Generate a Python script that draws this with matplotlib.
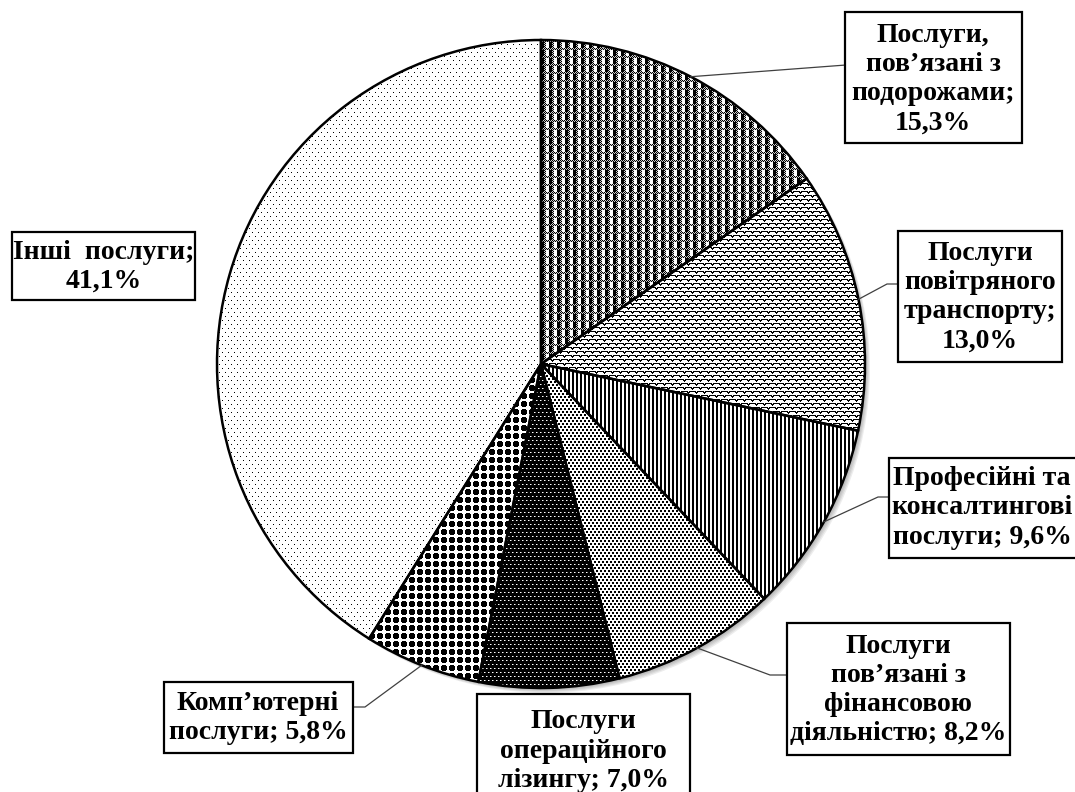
import numpy as np
import matplotlib
matplotlib.use("Agg")
import matplotlib.pyplot as plt
from matplotlib.patches import Rectangle, Circle

# data
categories = [
    "Послуги,\nпов’язані з\nподорожами",
    "Послуги\nповітряного\nтранспорту",
    "Професійні та\nконсалтингові\nпослуги",
    "Послуги\nпов’язані з\nфінансовою\nдіяльністю",
    "Послуги\nопераційного\nлізингу",
    "Комп’ютерні\nпослуги",
    "Інші  послуги",
]
shares = [15.3, 13.0, 9.6, 8.2, 7.0, 5.8, 41.1]
value_sep = ["\n", "\n", " ", " ", " ", " ", "\n"]

# layout in screen pixels (y from the top)
W, H = 1075, 792
cx, cy, R = 541, 364, 324
boxes = [(845, 12, 1022, 143), (898, 231, 1062, 362), (889, 458, 1082, 558),
         (787, 623, 1010, 755), (477, 694, 690, 800), (164, 682, 353, 753),
         (12, 232, 195, 300)]
text_pos = [(933, 79), (980, 297), (982, 508), (898, 690), (583, 751),
            (258, 718), (104, 267)]
elbows = [[(846, 65)], [(887, 284), (898, 284)], [(878, 497), (889, 497)],
          [(770, 675), (787, 675)], None, [(365, 707), (353, 707)], None]


def full(tile):
    th, tw = tile.shape
    return np.tile(tile, (H // th + 1, W // tw + 1))[:H, :W]


def tile_travel():
    v, u = np.mgrid[0:8, 0:8]
    chk = np.where((u + v) % 2 == 0, 0.0, 0.8)
    return np.where(v < 2, chk, np.where(u < 2, chk, np.where(u < 5, 1.0, 0.0)))


def tile_air():
    yy, xx = np.mgrid[0:64, 0:64].astype(float)
    t = np.ones((64, 64))
    for j in range(-3, 20):
        off = 4 * (j % 2)
        dx = ((xx - off + 4) % 8) - 4
        dy = yy - j * 4
        d = np.hypot(dx, dy)
        t[d < 6.0] = 0.0
        t[d < 4.8] = 1.0
    return t[16:24, 16:24]


def tile_prof():
    return np.array([[0.0, 0.0, 1.0, 1.0]])


def tile_fin():
    t = np.ones((6, 4))
    t[0:2, 0:2] = 0.0
    t[3:5, 2:4] = 0.0
    return t


def tile_leasing():
    t = np.zeros((8, 4))
    t[0, 0] = 1.0
    t[0, 1] = 0.5
    t[4, 2] = 1.0
    t[4, 3] = 0.5
    return t


def tile_computer():
    v, u = np.mgrid[0:8, 0:8]
    du = np.abs(u - 3.5)
    dv = np.abs(v - 3.5)
    blob = (du + dv <= 4) & (np.maximum(du, dv) <= 2.5)
    return np.where(blob, 0.0, 1.0)


def tile_other():
    t = np.ones((8, 6))
    t[0, 0] = 0.0
    t[4, 3] = 0.0
    return t


textures = [tile_travel(), tile_air(), tile_prof(), tile_fin(),
            tile_leasing(), tile_computer(), tile_other()]

fig = plt.figure(figsize=(W / 100, H / 100), dpi=100)
ax = fig.add_axes([0, 0, 1, 1])

# soft shadow
for k in range(4):
    ax.add_patch(Circle((cx + 2 + k, H - cy - 2 - k), R, facecolor="black",
                        alpha=0.07, lw=0, zorder=0))

wedges, _ = ax.pie(shares, startangle=90, counterclock=False,
                   center=(cx, H - cy), radius=R,
                   wedgeprops=dict(facecolor="none", edgecolor="black",
                                   linewidth=1.8, zorder=3))

for wedge, tile in zip(wedges, textures):
    im = ax.imshow(full(tile), extent=[0, W, 0, H], origin="upper",
                   cmap="gray", vmin=0, vmax=1, interpolation="nearest",
                   zorder=2)
    im.set_clip_path(wedge)

font = dict(family=["Liberation Serif", "DejaVu Serif"], weight="bold",
            size=20)

for i, (name, val) in enumerate(zip(categories, shares)):
    label = name + ";" + value_sep[i] + f"{val:.1f}".replace(".", ",") + "%"
    x0, y0, x1, y1 = boxes[i]
    ax.add_patch(Rectangle((x0, H - y1), x1 - x0, y1 - y0, facecolor="white",
                           edgecolor="black", linewidth=1.6, zorder=5))
    tx, ty = text_pos[i]
    ax.text(tx, H - ty, label, ha="center", va="center", linespacing=1.22,
            zorder=6, **font)
    if elbows[i] is not None:
        mid = np.deg2rad((wedges[i].theta1 + wedges[i].theta2) / 2)
        px = [cx + R * np.cos(mid)] + [p[0] for p in elbows[i]]
        py = [H - cy + R * np.sin(mid)] + [H - p[1] for p in elbows[i]]
        ax.plot(px, py, color="#404040", lw=0.9, zorder=4)

ax.set_xlim(0, W)
ax.set_ylim(0, H)
ax.set_aspect("auto")
ax.axis("off")
fig.savefig("out.png", dpi=100)
